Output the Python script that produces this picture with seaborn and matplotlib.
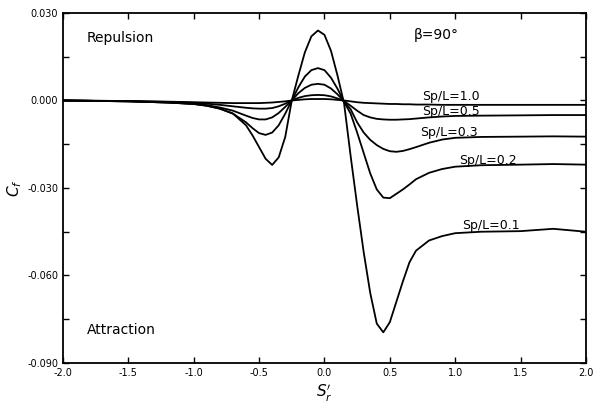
import matplotlib
matplotlib.use('Agg')
import matplotlib.pyplot as plt
from matplotlib.ticker import MultipleLocator
import pandas as pd
import seaborn as sns

sns.set_theme(style='ticks')
plt.rcParams['text.color'] = 'black'
plt.rcParams['axes.labelcolor'] = 'black'
plt.rcParams['xtick.color'] = 'black'
plt.rcParams['ytick.color'] = 'black'

# S'r positions shared by all curves
sr = [-2.0, -1.5, -1.2, -1.0, -0.9, -0.8, -0.7, -0.6, -0.55, -0.5, -0.45,
      -0.4, -0.35, -0.3, -0.25, -0.2, -0.15, -0.1, -0.05, 0.0, 0.05, 0.1,
      0.15, 0.2, 0.25, 0.3, 0.35, 0.4, 0.45, 0.5, 0.55, 0.6, 0.65, 0.7,
      0.8, 0.9, 1.0, 1.2, 1.5, 1.75, 2.0]

cf_10 = [0.0, -0.0002, -0.0004, -0.0006, -0.0007, -0.0008, -0.0009, -0.0009,
         -0.0009, -0.0009, -0.0008, -0.0007, -0.0005, -0.0003, 0.0, 0.0002,
         0.0004, 0.0005, 0.0005, 0.0005, 0.0004, 0.0002, 0.0, -0.0003,
         -0.0006, -0.0008, -0.0009, -0.0010, -0.0011, -0.0012, -0.0012,
         -0.0013, -0.0013, -0.0014, -0.0014, -0.0015, -0.0015, -0.0015,
         -0.0015, -0.0015, -0.0015]

cf_05 = [0.0, -0.0002, -0.0005, -0.0008, -0.0011, -0.0015, -0.0020, -0.0025,
         -0.0027, -0.0028, -0.0028, -0.0026, -0.0020, -0.0011, 0.0, 0.0009,
         0.0015, 0.0018, 0.0019, 0.0018, 0.0014, 0.0007, -0.0002, -0.0018,
         -0.0035, -0.0050, -0.0058, -0.0063, -0.0065, -0.0066, -0.0066,
         -0.0065, -0.0064, -0.0062, -0.0058, -0.0055, -0.0053, -0.0052,
         -0.0051, -0.0050, -0.0050]

cf_03 = [0.0, -0.0003, -0.0007, -0.0011, -0.0016, -0.0024, -0.0035, -0.0052,
         -0.0060, -0.0065, -0.0065, -0.0058, -0.0043, -0.0022, 0.0, 0.0025,
         0.0043, 0.0054, 0.0057, 0.0054, 0.0041, 0.0021, -0.0003, -0.0030,
         -0.0075, -0.0110, -0.0135, -0.0153, -0.0166, -0.0174, -0.0176,
         -0.0173, -0.0167, -0.0160, -0.0145, -0.0134, -0.0128, -0.0125,
         -0.0124, -0.0123, -0.0124]

cf_02 = [0.0, -0.0003, -0.0007, -0.0012, -0.0018, -0.0028, -0.0045, -0.0075,
         -0.0095, -0.0112, -0.0118, -0.0110, -0.0085, -0.0045, 0.0, 0.0045,
         0.0082, 0.0104, 0.0111, 0.0104, 0.0078, 0.0040, -0.0005, -0.0045,
         -0.0110, -0.0180, -0.0250, -0.0305, -0.0333, -0.0335, -0.0320,
         -0.0305, -0.0288, -0.0270, -0.0248, -0.0235, -0.0227, -0.0222,
         -0.0220, -0.0218, -0.0220]

cf_01 = [0.0, -0.0003, -0.0007, -0.0012, -0.0018, -0.0028, -0.0045, -0.0085,
         -0.0120, -0.0160, -0.0200, -0.0221, -0.0195, -0.0125, 0.0, 0.0085,
         0.0165, 0.0220, 0.0240, 0.0225, 0.0170, 0.0085, -0.0010, -0.0190,
         -0.0360, -0.0520, -0.0660, -0.0765, -0.0795, -0.0760, -0.0690,
         -0.0620, -0.0555, -0.0515, -0.0480, -0.0465, -0.0455, -0.0450,
         -0.0448, -0.0440, -0.0450]

ratios = ['1.0', '0.5', '0.3', '0.2', '0.1']
series = [cf_10, cf_05, cf_03, cf_02, cf_01]

df = pd.concat([pd.DataFrame({'sr': sr, 'cf': s, 'ratio': r})
                for r, s in zip(ratios, series)])

fig = plt.figure(figsize=(5.97, 4.12), dpi=100)
ax = fig.add_axes([0.1055, 0.119, 0.876, 0.8495])

sns.lineplot(data=df, x='sr', y='cf', hue='ratio', units='ratio',
             estimator=None, palette=['black'] * 5, linewidth=1.3,
             legend=False, ax=ax)

ax.set_xlim(-2.0, 2.0)
ax.set_ylim(-0.09, 0.03)
ax.set_xticks([-2.0, -1.5, -1.0, -0.5, 0.0, 0.5, 1.0, 1.5, 2.0])
ax.set_xticklabels(['-2.0', '-1.5', '-1.0', '-0.5', '0.0', '0.5', '1.0', '1.5', '2.0'])
ax.set_yticks([0.03, 0.0, -0.03, -0.06, -0.09])
ax.set_yticklabels(['0.030', '0.000', '-0.030', '-0.060', '-0.090'])
ax.yaxis.set_minor_locator(MultipleLocator(0.015))
ax.tick_params(direction='in', top=True, right=True, labelsize=7,
               length=4, width=1, color='black')
ax.tick_params(which='minor', direction='in', left=True, right=True,
               length=4, width=1, color='black')
for sp in ax.spines.values():
    sp.set_linewidth(1.3)
    sp.set_color('black')

ax.set_xlabel("$S_r'$", fontsize=11, labelpad=4)
ax.set_ylabel('$C_f$', fontsize=11, labelpad=2)

# curve labels
label_pos = {'1.0': (0.97, 0.0014), '0.5': (0.97, -0.0038),
             '0.3': (0.95, -0.0110), '0.2': (1.25, -0.0205),
             '0.1': (1.27, -0.0428)}
for r in ratios:
    x, y = label_pos[r]
    ax.text(x, y, f'Sp/L={r}', fontsize=9, ha='center', va='center')

ax.text(-1.82, 0.0215, 'Repulsion', fontsize=10, ha='left', va='center')
ax.text(-1.82, -0.0788, 'Attraction', fontsize=10, ha='left', va='center')
ax.text(0.68, 0.0225, 'β=90°', fontsize=10, ha='left', va='center')

fig.savefig('out.png', dpi=100)
